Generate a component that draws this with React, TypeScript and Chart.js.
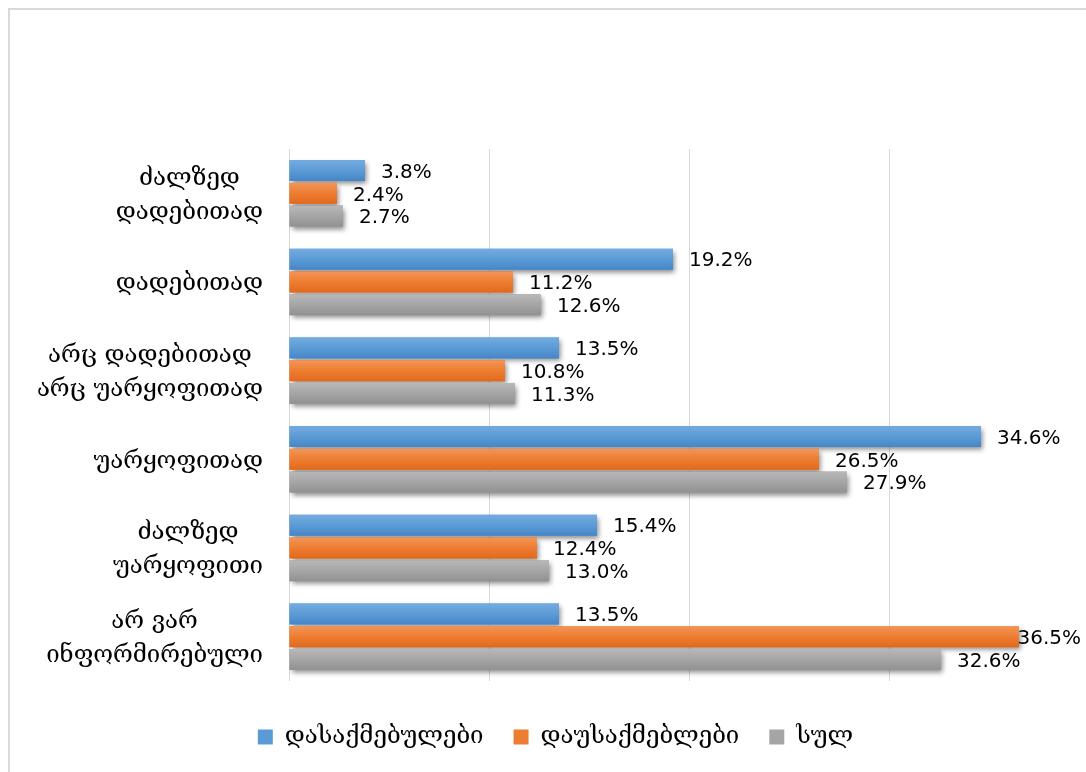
import React, { useEffect, useRef } from "react";
import { Chart, registerables } from "chart.js";

Chart.register(...registerables);

const categories: string[][] = [
  ["ძალზედ", "დადებითად"],
  ["დადებითად"],
  ["არც დადებითად", "არც უარყოფითად"],
  ["უარყოფითად"],
  ["ძალზედ", "უარყოფითი"],
  ["არ ვარ", "ინფორმირებული"],
];

const seriesNames = ["დასაქმებულები", "დაუსაქმებლები", "სულ"];
const employed = [3.8, 19.2, 13.5, 34.6, 15.4, 13.5];
const unemployed = [2.4, 11.2, 10.8, 26.5, 12.4, 36.5];
const total = [2.7, 12.6, 11.3, 27.9, 13.0, 32.6];
const xTicks = [0, 10, 20, 30, 40];

const baseColors = ["#5B9BD5", "#ED7D31", "#A5A5A5"];
const gradColors: [string, string, string][] = [
  ["#74ABE0", "#5B9BD5", "#4686C8"],
  ["#F39558", "#ED7D31", "#E2691C"],
  ["#B8B8B8", "#A5A5A5", "#919191"],
];

const FONT = "'DejaVu Sans', sans-serif";
const GEO_FONT = "'DejaVu Serif', 'DejaVu Sans', serif";
const CAT_FONT_SIZE = 24;
const CAT_LINE_H = 34;
const LABEL_FONT_SIZE = 20;

const barStylePlugin = {
  id: "barStyle",
  beforeDatasetsDraw(chart: any) {
    const ctx = chart.ctx;
    ctx.save();
    ctx.shadowColor = "rgba(0,0,0,0.45)";
    ctx.shadowBlur = 5;
    ctx.shadowOffsetX = 2;
    ctx.shadowOffsetY = 3;
  },
  afterDatasetsDraw(chart: any) {
    const ctx = chart.ctx;
    ctx.restore();
    ctx.save();
    chart.data.datasets.forEach((ds: any, di: number) => {
      const meta = chart.getDatasetMeta(di);
      const g = gradColors[di];
      meta.data.forEach((bar: any) => {
        const { x, y, base, height } = bar.getProps(["x", "y", "base", "height"], true);
        const top = y - height / 2;
        const grad = ctx.createLinearGradient(0, top, 0, top + height);
        grad.addColorStop(0, g[0]);
        grad.addColorStop(0.5, g[1]);
        grad.addColorStop(1, g[2]);
        ctx.fillStyle = grad;
        ctx.fillRect(base, top, x - base, height);
      });
    });
    ctx.font = `${LABEL_FONT_SIZE}px ${FONT}`;
    ctx.fillStyle = "#000000";
    ctx.textAlign = "left";
    ctx.textBaseline = "middle";
    const maxRight = 1081;
    chart.data.datasets.forEach((ds: any, di: number) => {
      const meta = chart.getDatasetMeta(di);
      meta.data.forEach((bar: any, idx: number) => {
        const { x, y } = bar.getProps(["x", "y"], true);
        const text = `${Number(ds.data[idx]).toFixed(1)}%`;
        const w = ctx.measureText(text).width;
        let tx = x + 16;
        if (tx + w > maxRight) tx = maxRight - w;
        ctx.fillText(text, tx, y + 2);
      });
    });
    ctx.restore();
  },
  afterDraw(chart: any) {
    const ctx = chart.ctx;
    const yScale = chart.scales.y;
    const right = chart.chartArea.left - 26;
    ctx.save();
    ctx.font = `${CAT_FONT_SIZE}px ${GEO_FONT}`;
    ctx.fillStyle = "#000000";
    ctx.textAlign = "center";
    ctx.textBaseline = "middle";
    categories.forEach((lines, i) => {
      const cy = yScale.getPixelForValue(i) + 2;
      const widths = lines.map((l) => ctx.measureText(l).width);
      const blockW = Math.max(...widths);
      const cx = right - blockW / 2;
      const startY = cy - ((lines.length - 1) * CAT_LINE_H) / 2;
      lines.forEach((l, li) => {
        ctx.fillText(l, cx, startY + li * CAT_LINE_H);
      });
    });
    ctx.restore();
  },
};

export default function App() {
  const ref = useRef<HTMLCanvasElement>(null);

  useEffect(() => {
    if (!ref.current) return;
    Chart.defaults.font.family = FONT;
    const chart = new Chart(ref.current, {
      type: "bar",
      data: {
        labels: categories.map((c) => c.join(" ")),
        datasets: [employed, unemployed, total].map((d, i) => ({
          label: seriesNames[i],
          data: d,
          backgroundColor: baseColors[i],
          borderWidth: 0,
          categoryPercentage: 0.77,
          barPercentage: 0.92,
        })),
      },
      options: {
        indexAxis: "y",
        responsive: false,
        animation: false,
        events: [],
        layout: { padding: { left: 22, right: 31, top: 149, bottom: 13 } },
        scales: {
          x: {
            min: xTicks[0],
            max: xTicks[xTicks.length - 1],
            afterBuildTicks: (scale: any) => {
              scale.ticks = xTicks.map((v) => ({ value: v }));
            },
            afterFit: (scale: any) => {
              scale.height = 14;
            },
            ticks: { display: false },
            grid: { color: "#D9D9D9", lineWidth: 1, drawTicks: false },
            border: { display: false },
          },
          y: {
            afterFit: (scale: any) => {
              scale.width = 267;
            },
            ticks: { display: false },
            grid: { display: false, drawTicks: false },
            border: { display: false },
          },
        },
        plugins: {
          legend: {
            position: "bottom",
            labels: {
              boxWidth: 15,
              boxHeight: 15,
              padding: 30,
              color: "#000000",
              font: { size: 24, family: GEO_FONT },
            },
          },
          tooltip: { enabled: false },
        },
      },
      plugins: [barStylePlugin],
    });
    return () => chart.destroy();
  }, []);

  return (
    <div
      style={{
        position: "absolute",
        left: 0,
        top: 0,
        width: 1086,
        height: 772,
        overflow: "hidden",
        background: "#ffffff",
      }}
    >
      <canvas
        ref={ref}
        width={1120}
        height={772}
        style={{ position: "absolute", left: 0, top: 0, width: 1120, height: 772 }}
      />
      <div
        style={{
          position: "absolute",
          left: 8,
          top: 8,
          width: 1200,
          height: 900,
          border: "2px solid #D9D9D9",
          pointerEvents: "none",
        }}
      />
    </div>
  );
}
